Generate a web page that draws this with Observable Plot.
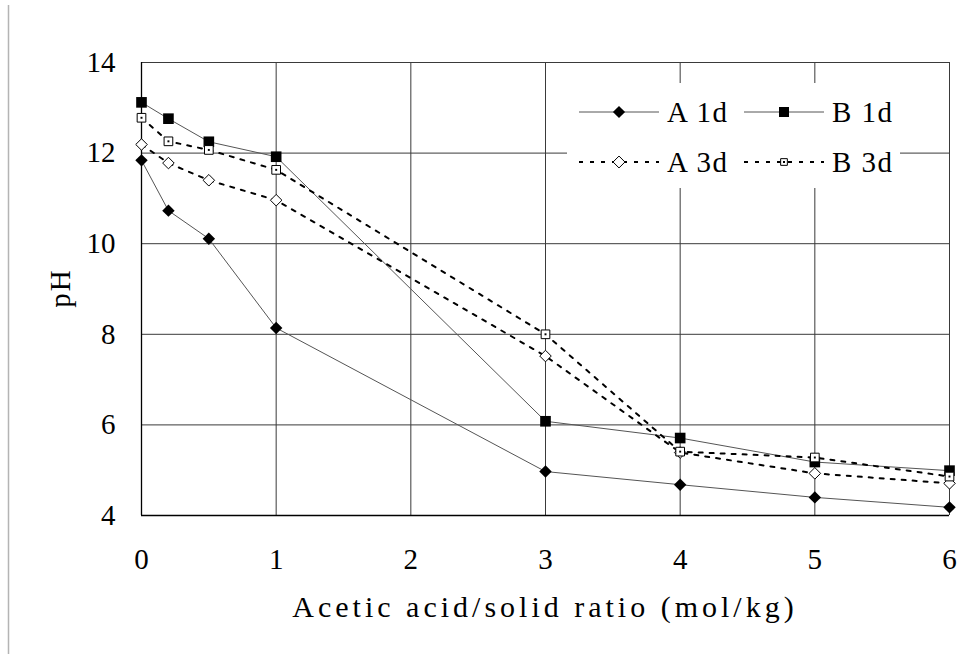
<!DOCTYPE html>
<html>
<head>
<meta charset="utf-8">
<script src="https://cdn.jsdelivr.net/npm/d3@7"></script>
<script src="https://cdn.jsdelivr.net/npm/@observablehq/plot@0.6"></script>
<style>
  html, body { margin: 0; padding: 0; background: white; }
  #chart { position: relative; width: 969px; height: 654px; }
  #chart svg text { font-family: "Liberation Serif", "DejaVu Serif", serif; }
</style>
</head>
<body>
<div id="chart"></div>
<script>
// ---- data ----
const ratios = [0, 0.2, 0.5, 1, 3, 4, 5, 6];
const pH_A1d = [11.84, 10.73, 10.11, 8.14, 4.97, 4.68, 4.40, 4.18];
const pH_B1d = [13.12, 12.76, 12.25, 11.92, 6.08, 5.71, 5.18, 4.99];
const pH_A3d = [12.19, 11.78, 11.40, 10.96, 7.52, 5.39, 4.93, 4.71];
const pH_B3d = [12.78, 12.26, 12.07, 11.63, 8.00, 5.41, 5.28, 4.86];
const seriesNames = ["A 1d", "B 1d", "A 3d", "B 3d"];
const xTicks = [0, 1, 2, 3, 4, 5, 6];
const yTicks = [4, 6, 8, 10, 12, 14];
const xTitle = "Acetic acid/solid ratio (mol/kg)";
const yTitle = "pH";

const toRows = (vals) => ratios.map((x, i) => ({x, y: vals[i]}));
const A1d = toRows(pH_A1d), B1d = toRows(pH_B1d), A3d = toRows(pH_A3d), B3d = toRows(pH_B3d);

const FONT = '"Liberation Serif", "DejaVu Serif", serif';
const solid = {x: "x", y: "y", stroke: "#555", strokeWidth: 1};
const dashed = {x: "x", y: "y", stroke: "black", strokeWidth: 2, strokeDasharray: "4,7"};

const chart = Plot.plot({
  width: 969,
  height: 654,
  marginLeft: 141,
  marginRight: 20,
  marginTop: 62,
  marginBottom: 139,
  style: {fontFamily: FONT, fontSize: "29px", background: "white", color: "black", overflow: "visible"},
  x: {domain: [0, 6], ticks: xTicks, tickSize: 0, tickPadding: 33, label: null, tickFormat: d => String(d)},
  y: {domain: [4, 14], ticks: yTicks, tickSize: 0, tickPadding: 26, label: null, tickFormat: d => String(d)},
  marks: [
    Plot.ruleX(xTicks.filter(d => d > 0), {stroke: "#3a3a3a", strokeWidth: 1}),
    Plot.ruleY(yTicks.filter(d => d > 4), {stroke: "#3a3a3a", strokeWidth: 1}),
    Plot.ruleX([0], {stroke: "black", strokeWidth: 1.3}),
    Plot.ruleY([4], {stroke: "black", strokeWidth: 1.3}),
    Plot.line(A1d, solid),
    Plot.line(B1d, solid),
    Plot.line(A3d, dashed),
    Plot.line(B3d, dashed),
    Plot.dot(A1d, {x: "x", y: "y", symbol: "diamond2", r: 5.6, fill: "black", stroke: "none"}),
    Plot.dot(B1d, {x: "x", y: "y", symbol: "square", r: 6.0, fill: "black", stroke: "none"}),
    Plot.dot(A3d, {x: "x", y: "y", symbol: "diamond2", r: 5.2, fill: "white", stroke: "black", strokeWidth: 1}),
    Plot.dot(B3d, {x: "x", y: "y", symbol: "square", r: 4.9, fill: "white", stroke: "black", strokeWidth: 1}),
    Plot.dot(B3d, {x: "x", y: "y", symbol: "square", r: 1.1, fill: "black", stroke: "none"})
  ]
});
chart.setAttribute("font-family", FONT);

document.getElementById("chart").appendChild(chart);

const svg = d3.select(chart);

// page border line on the left
svg.append("line")
  .attr("x1", 8.5).attr("x2", 8.5).attr("y1", 5).attr("y2", 654)
  .attr("stroke", "#b4b4b4").attr("stroke-width", 1.5);

// axis titles
svg.append("text")
  .attr("x", 545).attr("y", 606).attr("dy", "0.35em")
  .attr("text-anchor", "middle")
  .style("font-size", "30px").style("letter-spacing", "4px")
  .text(xTitle);

svg.append("text")
  .attr("transform", "translate(60,288) rotate(-90)")
  .attr("dy", "0.35em")
  .attr("text-anchor", "middle")
  .style("font-size", "29px").style("letter-spacing", "2px")
  .text(yTitle);

// legend
const lg = svg.append("g");
lg.append("rect").attr("x", 567).attr("y", 83).attr("width", 333).attr("height", 105).attr("fill", "white");
const items = [
  {name: seriesNames[0], col: 0, row: 0, dash: null, sym: d3.symbolDiamond2, size: 95, fill: "black", stroke: "none"},
  {name: seriesNames[1], col: 1, row: 0, dash: null, sym: d3.symbolSquare, size: 100, fill: "black", stroke: "none"},
  {name: seriesNames[2], col: 0, row: 1, dash: "4,7", sym: d3.symbolDiamond2, size: 90, fill: "white", stroke: "black"},
  {name: seriesNames[3], col: 1, row: 1, dash: "4,7", sym: d3.symbolSquare, size: 45, fill: "white", stroke: "black"}
];
items.forEach(it => {
  const x0 = 579 + it.col * 165;
  const y0 = 112 + it.row * 50;
  const g = lg.append("g");
  g.append("line").attr("x1", x0).attr("x2", x0 + 80).attr("y1", y0).attr("y2", y0)
    .attr("stroke", it.dash ? "black" : "#555")
    .attr("stroke-width", it.dash ? 2 : 1)
    .attr("stroke-dasharray", it.dash);
  g.append("path").attr("transform", `translate(${x0 + 40},${y0})`)
    .attr("d", d3.symbol(it.sym, it.size)())
    .attr("fill", it.fill).attr("stroke", it.stroke);
  if (it.col === 1 && it.row === 1) {
    g.append("rect").attr("x", x0 + 39).attr("y", y0 - 1).attr("width", 2).attr("height", 2).attr("fill", "black");
  }
  g.append("text").attr("x", x0 + 88).attr("y", y0).attr("dy", "0.35em")
    .attr("text-anchor", "start")
    .style("font-size", "29px").style("letter-spacing", "1.5px")
    .text(it.name);
});
</script>
</body>
</html>
